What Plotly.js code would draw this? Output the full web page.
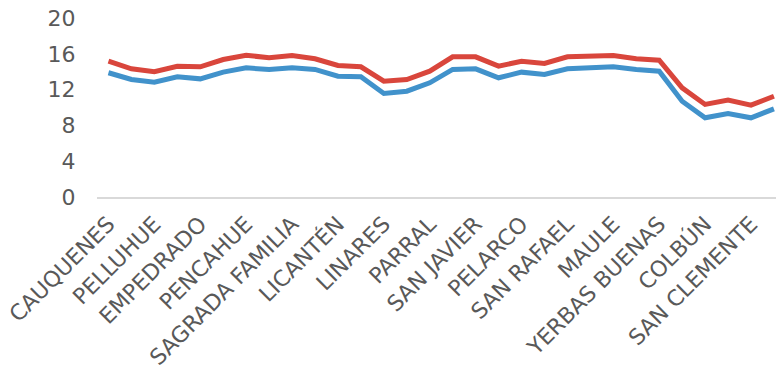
<!DOCTYPE html>
<html>
<head>
<meta charset="utf-8">
<script src="https://cdn.plot.ly/plotly-3.0.1.min.js"></script>
<style>html,body{margin:0;padding:0;background:#fff;}#chart{width:776px;height:369px;}</style>
</head>
<body>
<div id="chart"></div>
<script>
const communes = ["CAUQUENES","CHANCO","PELLUHUE","CUREPTO","EMPEDRADO","CONSTITUCIÓN","PENCAHUE","HUALAÑÉ","SAGRADA FAMILIA","VICHUQUÉN","LICANTÉN","RETIRO","LINARES","LONGAVÍ","PARRAL","VILLA ALEGRE","SAN JAVIER","RÍO CLARO","PELARCO","MOLINA","SAN RAFAEL","TALCA","MAULE","TENO","YERBAS BUENAS","CURICÓ","COLBÚN","RAUCO","SAN CLEMENTE","ROMERAL"];
const shownLabels = ["CAUQUENES","PELLUHUE","EMPEDRADO","PENCAHUE","SAGRADA FAMILIA","LICANTÉN","LINARES","PARRAL","SAN JAVIER","PELARCO","SAN RAFAEL","MAULE","YERBAS BUENAS","COLBÚN","SAN CLEMENTE"];
const seriesRed = [15.17,14.32,13.99,14.6,14.55,15.36,15.84,15.55,15.81,15.44,14.69,14.55,12.94,13.13,14.06,15.66,15.66,14.62,15.17,14.92,15.66,15.73,15.81,15.44,15.29,12.2,10.34,10.82,10.26,11.26];
const seriesBlue = [13.88,13.13,12.83,13.43,13.2,13.95,14.43,14.25,14.43,14.25,13.5,13.43,11.56,11.82,12.76,14.25,14.32,13.32,13.95,13.69,14.32,14.43,14.55,14.25,14.06,10.7,8.85,9.33,8.85,9.85];
const yTicks = [0,4,8,12,16,20];

const traces = [
  {x: communes, y: seriesBlue, type: 'scatter', mode: 'lines', name: 'Serie 2',
   line: {color: '#4192cb', width: 5}, hoverinfo: 'x+y'},
  {x: communes, y: seriesRed, type: 'scatter', mode: 'lines', name: 'Serie 1',
   line: {color: '#d9463c', width: 5}, hoverinfo: 'x+y'}
];

const layout = {
  width: 776, height: 369,
  margin: {l: 97, r: 0, t: 18, b: 171.5},
  paper_bgcolor: '#ffffff', plot_bgcolor: '#ffffff',
  showlegend: false,
  font: {family: '"DejaVu Sans", Verdana, sans-serif', color: '#595959', size: 22},
  xaxis: {
    type: 'category',
    range: [-0.5, 29.09],
    tickmode: 'array', tickvals: shownLabels, ticktext: shownLabels,
    tickangle: -45, ticks: 'outside', ticklen: 4, tickcolor: 'rgba(0,0,0,0)',
    showgrid: false, zeroline: false,
    showline: true, linecolor: '#d9d9d9', linewidth: 1.5,
    tickfont: {size: 22, color: '#595959'}
  },
  yaxis: {
    range: [0, 20], tickmode: 'array', tickvals: yTicks,
    showgrid: false, zeroline: false,
    showline: false, ticks: 'outside', ticklen: 16, tickcolor: 'rgba(0,0,0,0)',
    tickfont: {size: 22, color: '#595959'}
  }
};

Plotly.newPlot('chart', traces, layout, {displayModeBar: false, staticPlot: true});
</script>
</body>
</html>
